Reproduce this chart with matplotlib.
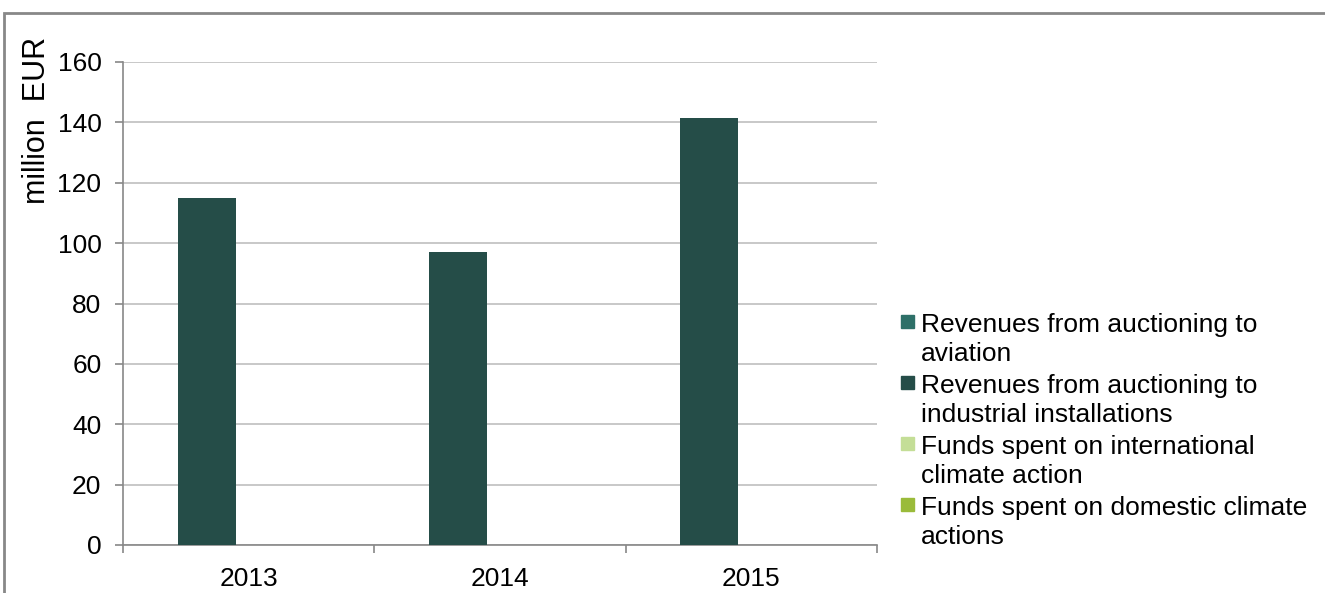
import matplotlib
matplotlib.use("Agg")
import matplotlib.pyplot as plt
from matplotlib.patches import Rectangle
import numpy as np

plt.rcParams['font.family'] = ['Liberation Sans', 'DejaVu Sans']

years = ["2013", "2014", "2015"]
aviation = [0, 0, 0]
industrial = [115, 97, 141.5]
funds_international = [0, 0, 0]
funds_domestic = [0, 0, 0]

labels = ["Revenues from auctioning to\naviation",
          "Revenues from auctioning to\nindustrial installations",
          "Funds spent on international\nclimate action",
          "Funds spent on domestic climate\nactions"]
colors = ["#2E7068", "#254D48", "#C4DE97", "#9ABB3A"]

W, H = 1325, 593
FS = 19
fig = plt.figure(figsize=(W / 100, H / 100), dpi=100)

def fx(px):
    return px / W

def fy(py):
    return 1 - py / H

# outer frame (top and left edges visible)
fig.patches.append(Rectangle((fx(4), fy(700)), fx(1400), fy(13) - fy(700),
                             transform=fig.transFigure, fill=False,
                             ec="#888888", lw=2, zorder=0))

ax = fig.add_axes([fx(123), fy(545), fx(877) - fx(123), fy(62) - fy(545)])

x = np.arange(len(years))
bw = 0.23
off = 0.167
ax.bar(x - off, aviation, bw, color=colors[0], zorder=3)
ax.bar(x - off, industrial, bw, bottom=aviation, color=colors[1], zorder=3)
ax.bar(x + off, funds_international, bw, color=colors[2], zorder=3)
ax.bar(x + off, funds_domestic, bw, bottom=funds_international, color=colors[3], zorder=3)

ax.set_xlim(-0.5, len(years) - 0.5)
ax.set_ylim(0, 160)
ax.set_yticks(np.arange(0, 161, 20))
ax.yaxis.grid(True, color="#BFBFBF", lw=1.2)
ax.set_axisbelow(True)

ax.set_xticks(np.arange(-0.5, len(years), 1.0))
ax.set_xticklabels([])
ax.set_xticks(x, minor=True)
ax.set_xticklabels(years, minor=True)
ax.tick_params(axis="x", which="major", length=6, width=1.2, color="#888888", direction="out")
ax.tick_params(axis="x", which="minor", length=0, pad=15.5, labelsize=FS)
ax.tick_params(axis="y", length=5.5, width=1.2, color="#888888", pad=10, labelsize=FS)

for s in ["top", "right"]:
    ax.spines[s].set_visible(False)
for s in ["left", "bottom"]:
    ax.spines[s].set_color("#888888")
    ax.spines[s].set_linewidth(1.2)

fig.text(fx(37), fy(120), "million  EUR", rotation=90, ha="center", va="center",
         fontsize=22)

# legend, one text per line so the swatch sits on the first line
base0 = 332
step = 61
lead = 29
for i, (lab, c) in enumerate(zip(labels, colors)):
    b = base0 + i * step
    fig.patches.append(Rectangle((fx(901), fy(b - 4)), fx(13), fy(b - 17) - fy(b - 4),
                                 transform=fig.transFigure, color=c))
    for j, line in enumerate(lab.split("\n")):
        fig.text(fx(921), fy(b + j * lead), line, ha="left", va="baseline", fontsize=FS)

fig.savefig("out.png", dpi=100)
